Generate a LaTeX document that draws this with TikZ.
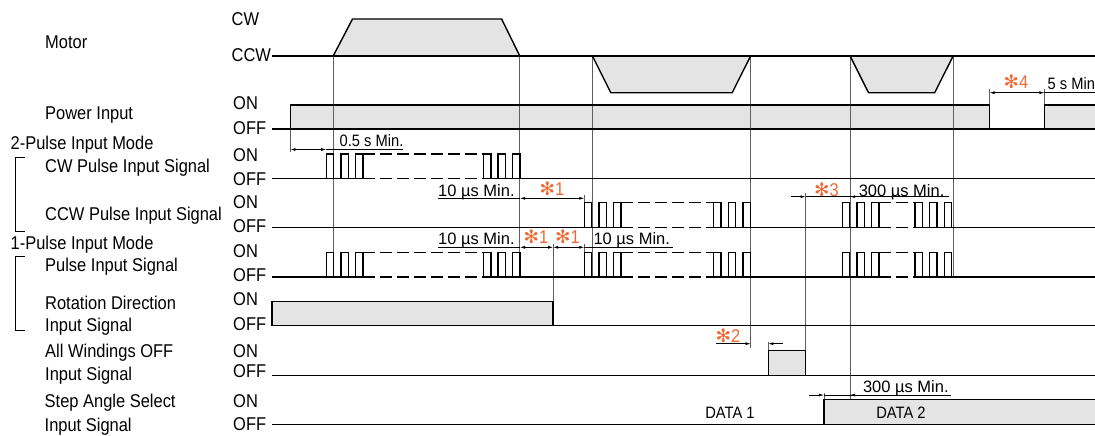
\documentclass[tikz,border=0pt]{standalone}
\usepackage{fontspec}
\setmainfont{Liberation Sans}
\newfontfamily\condfont[FakeStretch=0.89]{Liberation Sans}
\newfontfamily\astfont{DejaVu Sans}
\usetikzlibrary{arrows.meta}
\definecolor{sigfill}{RGB}{228,228,228}
\definecolor{noteorange}{RGB}{240,104,52}
\definecolor{guidegray}{RGB}{95,95,95}

% three pulses from x=#1, high level #2, low level #3
\newcommand{\pulses}[3]{%
  \foreach \k in {0,1,2}{
    \draw[sig] ({#1+\k*14.6},#3) |- ({#1+\k*14.6+7.4},#2) -- ({#1+\k*14.6+7.4},#3);
  }}
% pulse train: first group at #1, last group at #2, levels #3 / #4
\newcommand{\pulsetrain}[4]{%
  \pulses{#1}{#3}{#4}
  \pulses{#2}{#3}{#4}
  \draw[sig, dashline] ({#1+36.6},#3) -- (#2,#3);
  \draw[sig, dashline] ({#1+36.6},#4) -- (#2,#4);
}

\begin{document}
\begin{tikzpicture}[x=1pt, y=-1pt,
    sig/.style={line width=1.4pt, black},
    dashline/.style={dash pattern=on 12pt off 5pt},
    guide/.style={line width=0.8pt, guidegray},
    dimline/.style={line width=0.7pt, black},
    arr/.style={dimline, -{Latex[length=5pt,width=3pt]}},
    arrs/.style={dimline, {Latex[length=5pt,width=3pt]}-{Latex[length=5pt,width=3pt]}},
    lbl/.style={anchor=west, inner sep=0pt, text height=13pt, text depth=0pt,
        font=\condfont\fontsize{18.5}{20}\selectfont},
    smalltxt/.style={lbl, text height=11.8pt, font=\condfont\fontsize{16.5}{18}\selectfont},
    meas/.style={lbl, text height=11.5pt, font=\fontsize{16.5}{18}\selectfont},
    note/.style={inner sep=0pt, text height=13pt, text depth=0pt, text=noteorange,
        font=\condfont\fontsize{18.5}{20}\selectfont}
]
    \useasboundingbox (0,0) rectangle (1095,436);

    % signal names
    \node[lbl] (motor) at (45,42) {Motor};
    \node[lbl] (power) at (45,113) {Power Input};
    \node[lbl] (twomode) at (10.5,143) {2-Pulse Input Mode};
    \node[lbl] (cwsig) at (45,166) {CW Pulse Input Signal};
    \node[lbl] (ccwsig) at (45,213.5) {CCW Pulse Input Signal};
    \node[lbl] (onemode) at (10.5,243.3) {1-Pulse Input Mode};
    \node[lbl] (pulsesig) at (45,265.3) {Pulse Input Signal};
    \node[lbl] (rotsig) at (45,303.3) {Rotation Direction};
    \node[lbl] (rotsigb) at (45,325.3) {Input Signal};
    \node[lbl] (awosig) at (45,351) {All Windings OFF};
    \node[lbl] (awosigb) at (45,374.3) {Input Signal};
    \node[lbl] (stepsig) at (44.5,401) {Step Angle Select};
    \node[lbl] (stepsigb) at (44.5,425.3) {Input Signal};

    % brackets
    \draw[dimline] (25,157) -- (15.8,157) -- (15.8,231) -- (25,231);
    \draw[dimline] (25,256) -- (15.8,256) -- (15.8,330.3) -- (25,330.3);

    % levels
    \node[lbl] (lvcw) at (231.5,19) {CW};
    \node[lbl] (lvccw) at (231.5,55) {CCW};
    \foreach \on/\off [count=\i] in {103/128, 155/179, 201.7/226, 251/275.3,
                                     299.3/324.3, 351/371, 401/424.3}{
        \node[lbl] (on\i) at (233,\on) {ON};
        \node[lbl] (off\i) at (233,\off) {OFF};
    }

    % grey areas
    \fill[sigfill] (333.2,56) -- (352.5,19) -- (501.6,19) -- (519.8,56) -- cycle;
    \fill[sigfill] (592.4,56) -- (610.8,92.7) -- (732.2,92.7) -- (750.6,56) -- cycle;
    \fill[sigfill] (850.1,56) -- (868.5,92.7) -- (934.7,92.7) -- (953.1,56) -- cycle;
    \fill[sigfill] (290.4,105) rectangle (989.6,129);
    \fill[sigfill] (1044.4,105) rectangle (1095,129);
    \fill[sigfill] (271.8,301.7) rectangle (553.1,325.3);
    \fill[sigfill] (768.3,350.3) rectangle (805.5,375.3);
    \fill[sigfill] (823.9,399.3) rectangle (1095,424.3);

    % timing guides
    \foreach \x/\yend in {333.2/277, 519.8/277, 592.4/277, 750.6/347.7,
                          850.1/398.7, 953.1/277}{
        \draw[guide] (\x,56) -- (\x,\yend);
    }
    \draw[guide] (805.5,193) -- (805.5,350.3);
    \draw[guide] (768.3,341.7) -- (768.3,350.3);
    \draw[guide] (553.1,244.3) -- (553.1,301.7);
    \draw[guide] (584.3,195) -- (584.3,202.7);
    \draw[guide] (584.3,244) -- (584.3,252.5);
    \draw[guide] (290.4,129) -- (290.4,152);
    \draw[guide] (989.6,89) -- (989.6,105);
    \draw[guide] (1044.4,89) -- (1044.4,105);
    \draw[guide] (823.9,392.5) -- (823.9,399.3);

    % motor
    \draw[sig] (272,56) -- (1095,56);
    \draw[sig] (333.2,56) -- (352.5,19) -- (501.6,19) -- (519.8,56);
    \draw[sig] (592.4,56) -- (610.8,92.7) -- (732.2,92.7) -- (750.6,56);
    \draw[sig] (850.1,56) -- (868.5,92.7) -- (934.7,92.7) -- (953.1,56);

    % power input
    \draw[sig] (272,129) -- (1095,129);
    \draw[sig] (290.4,129) -- (290.4,105) -- (989.6,105) -- (989.6,129);
    \draw[sig] (1044.4,129) -- (1044.4,105) -- (1095,105);

    % CW pulse input (2-pulse)
    \draw[sig] (272,178.3) -- (362.6,178.3);
    \draw[sig] (483.4,178.3) -- (1095,178.3);
    \pulsetrain{326.2}{483.4}{154}{178.3}

    % CCW pulse input (2-pulse)
    \draw[sig] (272,227.7) -- (620.9,227.7);
    \draw[sig] (713.6,227.7) -- (878.9,227.7);
    \draw[sig] (915,227.7) -- (1095,227.7);
    \pulsetrain{584.3}{713.6}{202.7}{227.7}
    \pulsetrain{842.3}{915}{202.7}{227.7}

    % pulse input (1-pulse)
    \draw[sig] (272,277) -- (362.6,277);
    \draw[sig] (483.4,277) -- (620.9,277);
    \draw[sig] (713.6,277) -- (878.9,277);
    \draw[sig] (915,277) -- (1095,277);
    \pulsetrain{326.2}{483.4}{252.5}{277}
    \pulsetrain{584.3}{713.6}{252.5}{277}
    \pulsetrain{842.3}{915}{252.5}{277}

    % rotation direction
    \draw[sig] (271.8,301.7) rectangle (553.1,325.3);
    \draw[sig] (553.1,325.3) -- (1095,325.3);

    % all windings off
    \draw[sig] (272,375.3) -- (1095,375.3);
    \draw[sig] (768.3,375.3) -- (768.3,350.3) -- (805.5,350.3) -- (805.5,375.3);

    % step angle select
    \draw[sig] (272,424.3) -- (1095,424.3);
    \draw[sig] (823.9,424.3) -- (823.9,399.3) -- (1095,399.3);
    \node[smalltxt, anchor=center] (data1) at (730,412.7) {DATA 1};
    \node[smalltxt, anchor=center] (data2) at (901,412.7) {DATA 2};

    % timing requirements
    \draw[arrs] (290.4,149.5) -- (326.2,149.5);
    \draw[dimline] (326.2,149.5) -- (403,149.5);
    \node[smalltxt] (halfsec) at (339.5,141) {0.5 s Min.};

    \draw[dimline] (438,198.3) -- (520,198.3);
    \draw[arrs] (520,198.3) -- (584.3,198.3);
    \node[meas] (tenccw) at (438,190.7) {10 µs Min.};
    \node[note] (n1a) at (552,189.3) {{\astfont ✻}1};

    \draw[dimline] (438,247.3) -- (520,247.3);
    \draw[arrs] (520,247.3) -- (553.1,247.3);
    \draw[arrs] (553.1,247.3) -- (584.3,247.3);
    \draw[dimline] (584.3,247.3) -- (673.3,247.3);
    \node[meas] (tenpa) at (438,238.3) {10 µs Min.};
    \node[meas] (tenpb) at (593.3,238.3) {10 µs Min.};
    \node[note] (n1b) at (536,237.3) {{\astfont ✻}1};
    \node[note] (n1c) at (567.5,237.3) {{\astfont ✻}1};

    \draw[arr] (790.6,196.7) -- (805.5,196.7);
    \draw[dimline] (805.5,196.7) -- (948.8,196.7);
    \draw[arr] (866,196.7) -- (850.1,196.7);
    \node[note] (n3) at (826.5,190) {{\astfont ✻}3};
    \node[meas] (threeccw) at (858.6,190.7) {300 µs Min.};

    \draw[arrs] (989.6,92.7) -- (1044.4,92.7);
    \draw[dimline] (1044.4,92.7) -- (1095,92.7);
    \node[note] (n4) at (1016,82) {{\astfont ✻}4};
    \node[smalltxt] (fivesec) at (1047.5,84) {5 s Min};

    \draw[dimline] (716,343.7) -- (736,343.7);
    \draw[arr] (736,343.7) -- (750.6,343.7);
    \draw[arr] (782.5,343.7) -- (768.3,343.7);
    \node[note] (n2) at (728,336) {{\astfont ✻}2};

    \draw[arr] (809,395) -- (823.9,395);
    \draw[dimline] (823.9,395) -- (950.6,395);
    \draw[arr] (866,395) -- (850.1,395);
    \node[meas] (threestep) at (862.8,386.7) {300 µs Min.};
\end{tikzpicture}
\end{document}
